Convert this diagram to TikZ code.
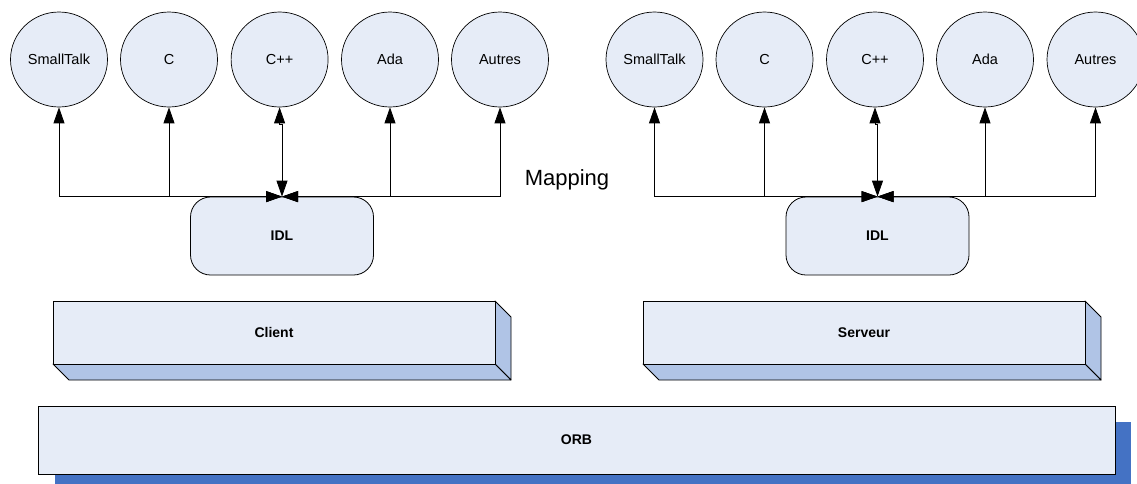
\documentclass[tikz,border=0pt]{standalone}
\usepackage{fontspec}
\setmainfont{Liberation Sans}
\usetikzlibrary{shapes.geometric,arrows.meta}
\definecolor{facefill}{HTML}{E6ECF7}
\definecolor{sidefill}{HTML}{B0C4E6}
\definecolor{shadowfill}{HTML}{4472C4}
\tikzset{tip/.tip={Triangle[length=16pt,width=11pt]}}
\begin{document}
\begin{tikzpicture}[x=1pt,y=-1pt,
  lang/.style={ellipse,draw=black,line width=0.7pt,fill=facefill,minimum width=97pt,minimum height=95pt,inner sep=0pt,font=\fontsize{14.5}{16}\selectfont},
  idlbox/.style={draw=black,line width=0.8pt,fill=facefill,rounded corners=20pt,minimum width=183pt,minimum height=78pt,inner sep=0pt,font=\bfseries\fontsize{14}{16}\selectfont},
  link/.style={line width=0.8pt,tip-tip},
  face/.style={draw=black,line width=0.8pt,fill=facefill},
  side/.style={draw=black,line width=0.8pt,fill=sidefill,line join=round},
  lbl/.style={font=\bfseries\fontsize{14}{16}\selectfont}]
\useasboundingbox (0,0) rectangle (1137,483);
\clip (0,0) rectangle (1137,483);

% Left group
\node[lang] (stL) at (59,59.5) {SmallTalk};
\node[lang] (cL) at (169,59.5) {C};
\node[lang] (cppL) at (279.6,59.5) {C++};
\node[lang] (adaL) at (390,59.5) {Ada};
\node[lang] (autL) at (500,59.5) {Autres};
\node[idlbox] (idlL) at (282,236) {IDL};
\draw[link] (idlL.north) -| (stL.south);
\draw[link] (idlL.north) -| (cL.south);
\draw[link] (idlL.north) -- ++(0,-72) -| (cppL.south);
\draw[link] (idlL.north) -| (adaL.south);
\draw[link] (idlL.north) -| (autL.south);

% Right group
\node[lang] (stR) at (654.5,59.5) {SmallTalk};
\node[lang] (cR) at (764.5,59.5) {C};
\node[lang] (cppR) at (875,59.5) {C++};
\node[lang] (adaR) at (985,59.5) {Ada};
\node[lang] (autR) at (1095.5,59.5) {Autres};
\node[idlbox] (idlR) at (877.5,236) {IDL};
\draw[link] (idlR.north) -| (stR.south);
\draw[link] (idlR.north) -| (cR.south);
\draw[link] (idlR.north) -- ++(0,-72) -| (cppR.south);
\draw[link] (idlR.north) -| (adaR.south);
\draw[link] (idlR.north) -| (autR.south);

\node[font=\fontsize{22}{24}\selectfont] (map) at (567,180) {Mapping};

% Client 3D box
\draw[side] (495,301) -- (511,317) -- (511,380) -- (495,364) -- cycle;
\draw[side] (53,364) -- (495,364) -- (511,380) -- (69,380) -- cycle;
\draw[face] (53,301) rectangle (495,364);
\node[lbl] (client) at (274,332.5) {Client};

% Serveur 3D box
\draw[side] (1085,301) -- (1101,317) -- (1101,380) -- (1085,364) -- cycle;
\draw[side] (643,364) -- (1085,364) -- (1101,380) -- (659,380) -- cycle;
\draw[face] (643,301) rectangle (1085,364);
\node[lbl] (serveur) at (864,332.5) {Serveur};

% ORB
\fill[shadowfill] (55,422) rectangle (1131,490);
\draw[face] (38,406) rectangle (1115,474);
\node[lbl] (orb) at (576.5,440) {ORB};
\end{tikzpicture}
\end{document}
